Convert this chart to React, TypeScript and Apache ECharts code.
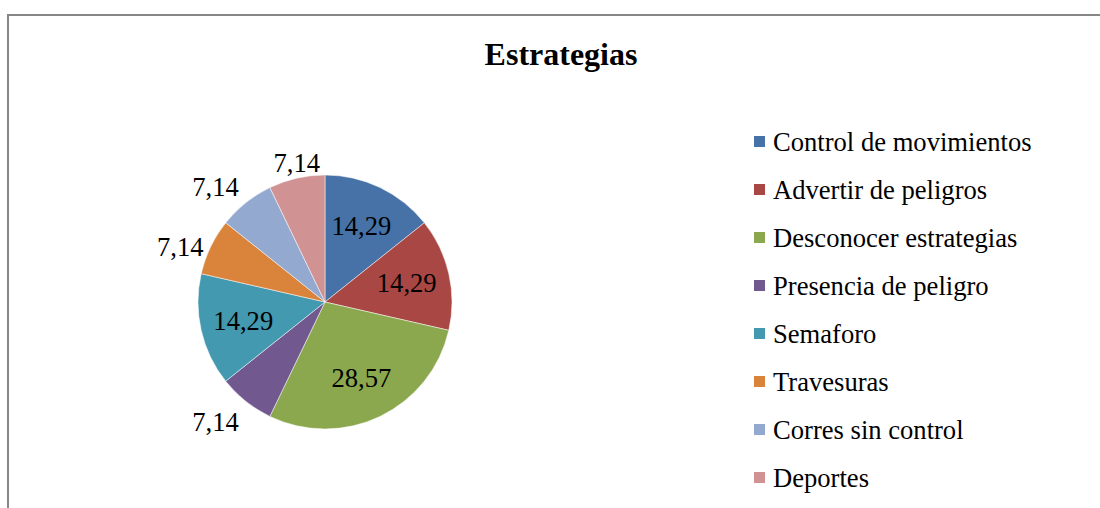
import React, { useEffect, useRef } from "react";
import * as echarts from "echarts";

const categories = [
  "Control de movimientos",
  "Advertir de peligros",
  "Desconocer estrategias",
  "Presencia de peligro",
  "Semaforo",
  "Travesuras",
  "Corres sin control",
  "Deportes",
];
const values = [14.29, 14.29, 28.57, 7.14, 14.29, 7.14, 7.14, 7.14];
const colors = [
  "#4672A8",
  "#A94744",
  "#8BA84E",
  "#71588F",
  "#4299B0",
  "#DA843B",
  "#93A9CF",
  "#D09293",
];
const titleText = "Estrategias";

const CX = 325;
const CY = 302;
const R = 127;
const FONT = "'Liberation Serif', 'Times New Roman', serif";

function fmt(v: number) {
  return v.toFixed(2).replace(".", ",");
}

export default function App() {
  const ref = useRef<HTMLDivElement>(null);
  useEffect(() => {
    if (!ref.current) return;
    const chart = echarts.init(ref.current, undefined, { renderer: "svg" });
    const total = values.reduce((a, b) => a + b, 0);
    const mids: number[] = [];
    let cum = 0;
    values.forEach((v) => {
      mids.push(((cum + v / 2) / total) * 2 * Math.PI);
      cum += v;
    });

    const labelLayout = (params: any) => {
      const i = params.dataIndex;
      const th = mids[i];
      const ux = Math.sin(th);
      const uy = -Math.cos(th);
      if (values[i] > 10) {
        return {
          x: CX + ux * R * 0.66,
          y: CY + uy * R * 0.66,
          align: "center",
          verticalAlign: "middle",
        };
      }
      const px = CX + ux * R;
      const py = CY + uy * R;
      const gx = 7;
      const gyTop = 7;
      const gyBot = 2;
      const ay = Math.abs(uy);
      if (ay < 0.5) {
        return {
          x: px + (ux < 0 ? -gx : gx),
          y: py,
          align: ux < 0 ? "right" : "left",
          verticalAlign: "middle",
        };
      }
      if (ay > 0.866) {
        return {
          x: px,
          y: py + (uy < 0 ? -gyBot : gyTop),
          align: "center",
          verticalAlign: uy < 0 ? "bottom" : "top",
        };
      }
      return {
        x: px + (ux < 0 ? -gx : gx),
        y: py + (uy < 0 ? -gyBot : gyTop),
        align: ux < 0 ? "right" : "left",
        verticalAlign: uy < 0 ? "bottom" : "top",
      };
    };

    chart.setOption({
      animation: false,
      backgroundColor: "#ffffff",
      color: colors,
      graphic: [
        {
          type: "rect",
          shape: { x: 8, y: 15, width: 1300, height: 700 },
          style: { fill: "none", stroke: "#878787", lineWidth: 2 },
          silent: true,
          z: -1,
        },
        {
          type: "text",
          x: 561,
          y: 54,
          style: {
            text: titleText,
            fontSize: 32,
            fontWeight: "bold",
            fontFamily: FONT,
            fill: "#000",
            align: "center",
            verticalAlign: "middle",
          },
        },
      ],
      legend: {
        orient: "vertical",
        left: 747,
        top: 123,
        icon: "rect",
        itemWidth: 13,
        itemHeight: 13,
        itemGap: 21.0,
        data: categories,
        textStyle: {
          fontSize: 26.6,
          lineHeight: 26,
          fontFamily: FONT,
          color: "#000",
          padding: [0, 0, 0, 2],
        },
      },
      series: [
        {
          type: "pie",
          center: [CX, CY],
          radius: [0, R],
          startAngle: 90,
          clockwise: true,
          avoidLabelOverlap: false,
          itemStyle: { borderColor: "#ffffff", borderWidth: 0.5 },
          label: {
            show: true,
            position: "outside",
            formatter: (p: any) => fmt(p.value),
            fontSize: 26.6,
            fontFamily: FONT,
            color: "#000",
          },
          labelLine: { show: false },
          labelLayout,
          emphasis: { disabled: true },
          data: categories.map((c, i) => ({ name: c, value: values[i] })),
        },
      ],
    });
    return () => chart.dispose();
  }, []);
  return (
    <div
      ref={ref}
      style={{ position: "fixed", left: 0, top: 0, width: 1100, height: 508 }}
    />
  );
}
